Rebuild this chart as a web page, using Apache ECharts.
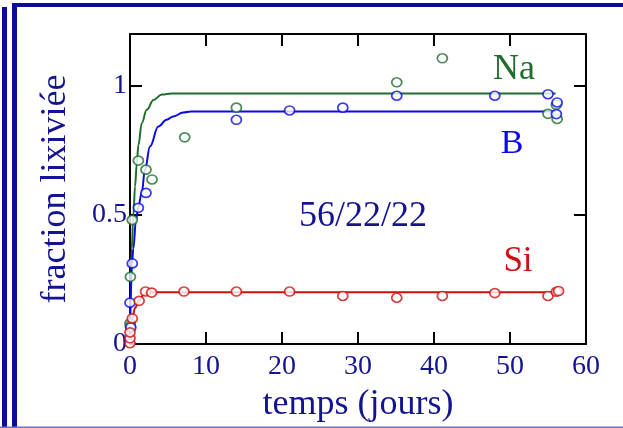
<!DOCTYPE html>
<html>
<head>
<meta charset="utf-8">
<script src="https://cdn.jsdelivr.net/npm/echarts@6/dist/echarts.min.js"></script>
<style>
  html, body { margin: 0; padding: 0; background: #ffffff; }
  #chart { width: 623px; height: 428px; }
</style>
</head>
<body>
<div id="chart"></div>
<script>
// points mesurés [temps (jours), fraction lixiviée]
const naPoints = [
  [0, 0.08], [0.05, 0.07], [0.05, 0.26], [0.3, 0.48], [1.1, 0.71], [2.1, 0.675],
  [2.9, 0.637], [7.2, 0.8], [14, 0.915], [35.1, 1.013], [41.1, 1.106],
  [55, 0.891], [56.1, 0.926], [56.2, 0.871]
]
const bPoints = [
  [0.1, 0.064], [0, 0.16], [0.3, 0.312], [1.1, 0.527], [2.1, 0.585],
  [14, 0.868], [21, 0.904], [28, 0.915], [35.1, 0.961], [48, 0.961],
  [55, 0.967], [56.2, 0.935], [56.1, 0.89]
]
const siPoints = [
  [0, 0.003], [0, 0.022], [0, 0.045], [0.3, 0.099], [1.2, 0.167], [2.05, 0.203],
  [2.85, 0.199], [7.1, 0.203], [14, 0.203], [21, 0.203], [28, 0.186],
  [35.1, 0.179], [41.1, 0.186], [48, 0.197], [55, 0.186], [56.1, 0.202], [56.4, 0.205]
]

// courbes ajustées
const naCurve = [
  [0, 0], [0.1, 0.2], [0.22, 0.37], [0.45, 0.5], [0.66, 0.61], [0.9, 0.7],
  [1.1, 0.77], [1.55, 0.855], [2.2, 0.907], [3.1, 0.945], [4.2, 0.966],
  [5.5, 0.97], [56, 0.97]
]
const bCurve = [
  [0, 0], [0.05, 0.16], [0.26, 0.31], [0.44, 0.37], [0.79, 0.48], [1.09, 0.53],
  [1.54, 0.585], [1.97, 0.675], [2.63, 0.765], [3.73, 0.842], [4.82, 0.868],
  [5.7, 0.881], [7, 0.896], [8, 0.9], [56, 0.9]
]
const siCurve = [
  [0, 0], [0.15, 0.06], [0.3, 0.095], [0.66, 0.14], [1.18, 0.167],
  [1.75, 0.19], [2.4, 0.2], [56, 0.2]
]

const xTicks = { min: 0, max: 60, interval: 10 }
const yTicks = { min: 0, max: 1.2, interval: 0.5 }

const navy = '#141490'
const green = '#1e6e2e'
const blue = '#0a0ae6'
const red = '#cc1111'
const frame = '#0c0c99'
const serif = '"Liberation Serif", "DejaVu Serif", serif'

function lineSeries(data, color) {
  return {
    type: 'line',
    data: data,
    smooth: 0.4,
    smoothMonotone: 'x',
    showSymbol: false,
    symbol: 'none',
    lineStyle: { color: color, width: 2 },
    z: 2
  }
}

function pointSeries(data, color) {
  return {
    type: 'scatter',
    data: data,
    symbol: 'circle',
    symbolSize: [10, 9],
    clip: false,
    itemStyle: { color: '#ffffff', borderColor: color, borderWidth: 1.7 },
    z: 3
  }
}

const tickStyle = { show: true, inside: true, length: 12, lineStyle: { color: '#000', width: 2 } }
const lineStyleAxis = { show: true, onZero: false, lineStyle: { color: '#000', width: 2 } }

const chart = echarts.init(document.getElementById('chart'))

const option = {
  animation: false,
  backgroundColor: '#ffffff',
  grid: { left: 130, right: 37, top: 34, bottom: 83 },
  xAxis: [
    {
      type: 'value',
      position: 'bottom',
      min: xTicks.min, max: xTicks.max, interval: xTicks.interval,
      axisLine: lineStyleAxis,
      axisTick: tickStyle,
      splitLine: { show: false },
      axisLabel: { color: navy, fontFamily: serif, fontSize: 28, margin: 9 },
      name: 'temps (jours)',
      nameLocation: 'middle',
      nameGap: 43,
      nameTextStyle: { color: navy, fontFamily: serif, fontSize: 36 }
    },
    {
      type: 'value',
      position: 'top',
      min: xTicks.min, max: xTicks.max, interval: xTicks.interval,
      axisLine: lineStyleAxis,
      axisTick: tickStyle,
      splitLine: { show: false },
      axisLabel: { show: false }
    }
  ],
  yAxis: [
    {
      type: 'value',
      position: 'left',
      min: yTicks.min, max: yTicks.max, interval: yTicks.interval,
      axisLine: lineStyleAxis,
      axisTick: tickStyle,
      splitLine: { show: false },
      axisLabel: { color: navy, fontFamily: serif, fontSize: 28, margin: 3, showMaxLabel: false },
      name: 'fraction lixiviée',
      nameLocation: 'middle',
      nameGap: 56,
      nameTextStyle: { color: navy, fontFamily: serif, fontSize: 36 }
    },
    {
      type: 'value',
      position: 'right',
      min: yTicks.min, max: yTicks.max, interval: yTicks.interval,
      axisLine: lineStyleAxis,
      axisTick: tickStyle,
      splitLine: { show: false },
      axisLabel: { show: false }
    }
  ],
  series: [
    lineSeries(naCurve, green),
    lineSeries(bCurve, blue),
    lineSeries(siCurve, red),
    pointSeries(naPoints, green),
    pointSeries(bPoints, blue),
    pointSeries(siPoints, red)
  ],
  graphic: [
    // cadre bleu
    { type: 'rect', shape: { x: 2, y: 7, width: 5, height: 421 }, style: { fill: frame }, silent: true },
    { type: 'rect', shape: { x: 12, y: 3, width: 5, height: 425 }, style: { fill: frame }, silent: true },
    { type: 'rect', shape: { x: 12, y: 3, width: 611, height: 4 }, style: { fill: frame }, silent: true },
    { type: 'rect', shape: { x: 0, y: 426.5, width: 623, height: 1.5 }, style: { fill: '#7070c8' }, silent: true },
    // étiquettes
    { type: 'text', x: 514, y: 70, style: { text: 'Na', fill: green, font: '36px ' + serif, align: 'center', verticalAlign: 'middle' } },
    { type: 'text', x: 512, y: 144, style: { text: 'B', fill: blue, font: '34px ' + serif, align: 'center', verticalAlign: 'middle' } },
    { type: 'text', x: 518, y: 262, style: { text: 'Si', fill: red, font: '35px ' + serif, align: 'center', verticalAlign: 'middle' } },
    { type: 'text', x: 363, y: 217, style: { text: '56/22/22', fill: navy, font: '36px ' + serif, align: 'center', verticalAlign: 'middle' } }
  ]
}

chart.setOption(option)
</script>
</body>
</html>
